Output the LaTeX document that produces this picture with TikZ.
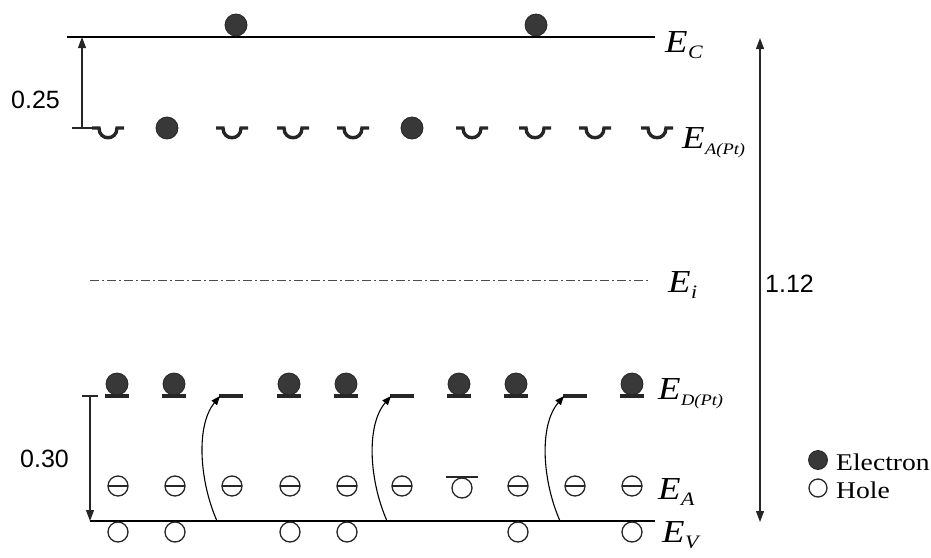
\documentclass[tikz,border=0pt]{standalone}
\usepackage{fontspec}
\setmainfont[FakeStretch=1.15]{Liberation Serif}
\setsansfont{Liberation Sans}
\usetikzlibrary{arrows.meta}

\newcommand{\lsub}[1]{\kern0.5pt\raisebox{-6pt}{\fontsize{19}{19}\selectfont #1}}
\newcommand{\lsubs}[1]{\kern0.5pt\raisebox{-6pt}{\fontsize{16}{16}\selectfont #1}}

\tikzset{
  band/.style={line width=1.6pt},
  midgap/.style={line width=1pt, black!70, dash pattern=on 9pt off 3pt on 2pt off 3pt},
  elec/.style={circle, fill=black!78, draw=black!85, line width=0.8pt, inner sep=0pt, minimum size=22pt},
  hole/.style={circle, draw=black!85, line width=1.3pt, inner sep=0pt, minimum size=20pt},
  lbl/.style={anchor=base west, inner sep=0pt, font=\fontsize{32}{32}\selectfont\itshape},
  num/.style={anchor=base west, inner sep=0pt, font=\sffamily\fontsize{25}{25}\selectfont},
  legend/.style={anchor=base west, inner sep=0pt, font=\fontsize{24}{24}\selectfont},
  dim/.style={line width=1.1pt, black!85},
  tip/.style={-{Triangle[length=11pt,width=8pt]}},
  jump/.style={line width=1.1pt, -{Triangle[length=9pt,width=7pt]}},
  trapbar/.style={line width=3.4pt, black!85},
  trap/.pic={\draw[trapbar] (-16,0) -- (-9,0) .. controls (-9,13) and (9,13) .. (9,0) -- (16,0);},
  shelf/.pic={\draw[trapbar] (-12,0) -- (12,0);},
  minus/.pic={\node[hole] at (0,0) {}; \draw[line width=1.2pt, black!85] (-10,0) -- (10,0);}
}

\begin{document}
\begin{tikzpicture}[x=1pt,y=-1pt]
\useasboundingbox (0,0) rectangle (931,557);

\draw[band] (67,37) -- (655,37);
\draw[band] (90,521) -- (655,521);
\draw[midgap] (90,280) -- (650,280);

\node[lbl] (lc) at (665,52) {E\lsub{C}};
\node[lbl] (lapt) at (682,148) {E\lsubs{A(Pt)}};
\node[lbl] (li) at (668,292) {E\lsub{i}};
\node[lbl] (ldpt) at (658,399) {E\lsubs{D(Pt)}};
\node[lbl] (la) at (658,499) {E\lsub{A}};
\node[lbl] (lv) at (662,542) {E\lsub{V}};

% conduction band
\node[elec] (c1) at (236,25) {};
\node[elec] (c2) at (536,25) {};

% Pt acceptor level
\foreach \x in {108,232,293,353,472,535,595,657}
  \pic at (\x,128) {trap};
\node[elec] (a1) at (167,128) {};
\node[elec] (a2) at (412,128) {};

% Pt donor level
\foreach \x [count=\i] in {117,174,289,346,459,516,632} {
  \pic at (\x,396) {shelf};
  \node[elec] (d\i) at (\x,384) {};
}
\foreach \x [count=\i] in {231,402,575} {
  \pic at (\x,396) {shelf};
  \coordinate (s\i) at (\x-11,396);
}

% acceptor level
\foreach \x in {118,175,232,290,347,402,518,575,632}
  \pic at (\x,486) {minus};
\node[hole] (ah) at (462,488) {};
\draw[line width=1.3pt, black!85] (446,477) -- (478,477);

% valence band
\foreach \x [count=\i] in {118,175,290,347,518,632}
  \node[hole] (v\i) at (\x,532) {};

\coordinate (b1) at (217,521);
\coordinate (b2) at (387,521);
\coordinate (b3) at (560,521);
\draw[jump] (b1) .. controls (199,480) and (196,425) .. (s1);
\draw[jump] (b2) .. controls (369,480) and (366,425) .. (s2);
\draw[jump] (b3) .. controls (542,480) and (539,425) .. (s3);

% energy gaps
\coordinate (t25) at (82,128);
\coordinate (t30) at (90,396);
\draw[dim] (72,128) -- (92,128);
\draw[dim,tip] (t25) -- (82,37);
\node[num] (n25) at (11,108) {0.25};
\draw[dim] (82,396) -- (98,396);
\draw[dim,tip] (t30) -- (90,521);
\node[num] (n30) at (20,467) {0.30};
\coordinate (g1) at (760,522);
\coordinate (g2) at (760,38);
\draw[dim,{Triangle[length=11pt,width=8pt]}-{Triangle[length=11pt,width=8pt]}] (g1) -- (g2);
\node[num] (n112) at (765,292) {1.12};

% legend
\node[elec, minimum size=19pt] (ke) at (818,460) {};
\node[legend] (te) at (836,470) {Electron};
\node[hole, minimum size=18pt] (kh) at (818,488) {};
\node[legend] (th) at (836,498) {Hole};
\end{tikzpicture}
\end{document}
